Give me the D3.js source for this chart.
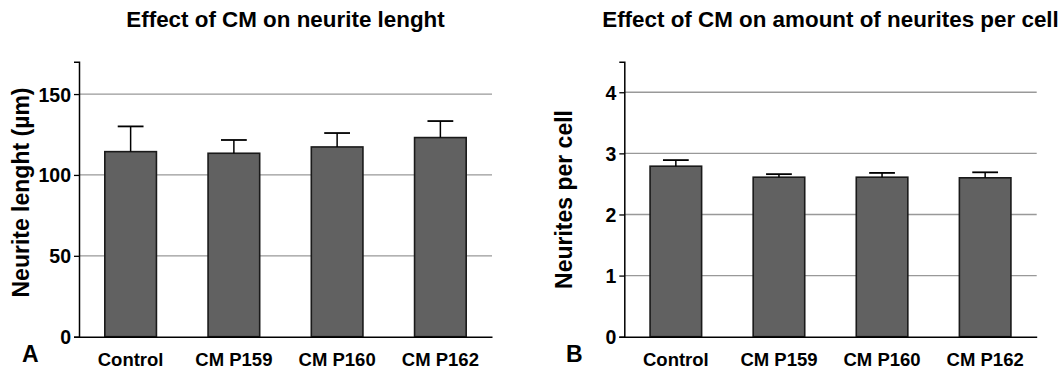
<!DOCTYPE html>
<html><head><meta charset="utf-8">
<script src="https://cdn.jsdelivr.net/npm/d3@7"></script>
<style>
html,body{margin:0;padding:0;background:#fff;}
svg text{font-family:"Liberation Sans",Arial,sans-serif;font-weight:bold;fill:#000;}
</style></head>
<body><svg id="c" width="1063" height="370"></svg>
<script>
const categories = ["Control","CM P159","CM P160","CM P162"];
const lengthMeans = [114.4, 113.4, 117.3, 123.1];
const lengthErrors = [15.6, 8.2, 8.6, 10.2];
const lengthTicks = [0, 50, 100, 150];
const countMeans = [2.79, 2.61, 2.61, 2.60];
const countErrors = [0.10, 0.05, 0.07, 0.09];
const countTicks = [0, 1, 2, 3, 4];

const svg = d3.select("#c");

function panel(o){
  const g = svg.append("g");
  const x = d3.scaleBand().domain(categories).range([o.x0, o.x1]).paddingInner(0.5).paddingOuter(0.25);
  const y = d3.scaleLinear().domain([0, o.ymax]).range([o.y0, o.y1]);
  // gridlines
  g.selectAll(".grid").data(o.ticks.filter(t=>t>0)).join("line")
    .attr("x1", o.x0).attr("x2", o.x1)
    .attr("y1", d=>y(d)).attr("y2", d=>y(d))
    .attr("stroke", "#999").attr("stroke-width", 1.3);
  // bars
  g.selectAll(".bar").data(categories).join("rect")
    .attr("x", d=>x(d)).attr("width", x.bandwidth())
    .attr("y", (d,i)=>y(o.means[i])).attr("height", (d,i)=>y(0)-y(o.means[i]))
    .attr("fill", "#616161").attr("stroke", "#1a1a1a").attr("stroke-width", 1.6);
  // error bars
  const cx = d=>x(d)+x.bandwidth()/2;
  g.selectAll(".ev").data(categories).join("line")
    .attr("x1", cx).attr("x2", cx)
    .attr("y1", (d,i)=>y(o.means[i])).attr("y2", (d,i)=>y(o.means[i]+o.errs[i]))
    .attr("stroke", "#000").attr("stroke-width", 1.5);
  g.selectAll(".ec").data(categories).join("line")
    .attr("x1", d=>cx(d)-x.bandwidth()/4).attr("x2", d=>cx(d)+x.bandwidth()/4)
    .attr("y1", (d,i)=>y(o.means[i]+o.errs[i])).attr("y2", (d,i)=>y(o.means[i]+o.errs[i]))
    .attr("stroke", "#000").attr("stroke-width", 1.8);
  // y axis
  const ya = d3.axisLeft(y).tickValues(o.ticks).tickSize(5).tickPadding(3).tickFormat(d3.format("d"));
  const yg = g.append("g").attr("transform", `translate(${o.x0},0)`).call(ya);
  yg.select(".domain").attr("stroke", "#000").attr("stroke-width", 1.5);
  yg.selectAll(".tick line").attr("stroke", "#000").attr("stroke-width", 1.3);
  yg.selectAll(".tick text").style("font-size", "19.5px").attr("dy", "0.36em");
  // x axis
  const xa = d3.axisBottom(x).tickSize(0).tickPadding(20);
  const xg = g.append("g").attr("transform", `translate(0,${o.y0})`).call(xa);
  xg.select(".domain").attr("stroke", "#000").attr("stroke-width", 1.5);
  xg.selectAll(".tick text").style("font-size", "18.5px").attr("dy", "0").attr("y", 29.5);
  // title
  g.append("text").attr("x", (o.x0+o.x1)/2).attr("y", 27).attr("text-anchor","middle")
    .style("font-size","22.4px").text(o.title);
  // y label
  g.append("text").attr("transform", `translate(${o.lx},${o.ly}) rotate(-90)`)
    .attr("text-anchor","middle").style("font-size","23px").text(o.ylabel);
  // panel letter
  g.append("text").attr("x", o.px).attr("y", 362).style("font-size","23px").text(o.letter);
}

panel({x0:79, x1:492, y0:336.7, y1:61.7, ymax:170, ticks:lengthTicks,
  means:lengthMeans, errs:lengthErrors, title:"Effect of CM on neurite lenght",
  ylabel:"Neurite lenght (µm)", lx:28.5, ly:192.5, letter:"A", px:22});
panel({x0:624.3, x1:1036.7, y0:336.7, y1:61.7, ymax:4.5, ticks:countTicks,
  means:countMeans, errs:countErrors, title:"Effect of CM on amount of neurites per cell",
  ylabel:"Neurites per cell", lx:572, ly:199.5, letter:"B", px:566});
</script></body></html>
